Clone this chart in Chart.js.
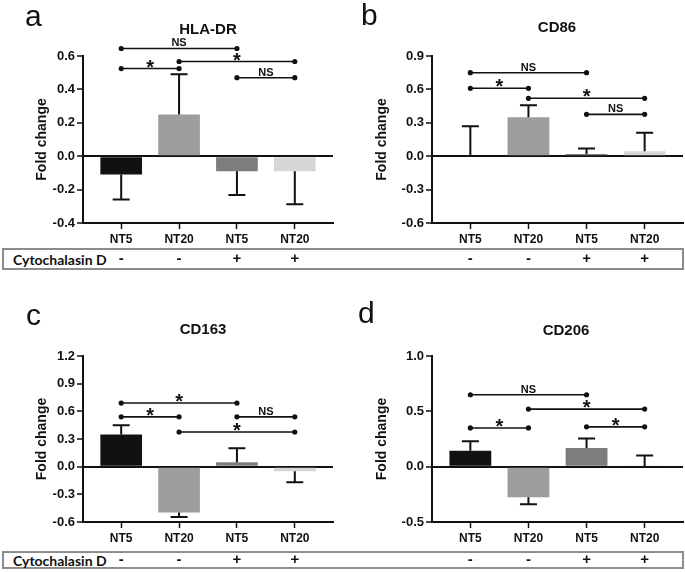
<!DOCTYPE html>
<html>
<head>
<meta charset="utf-8">
<script src="https://cdn.jsdelivr.net/npm/chart.js@4.4.0/dist/chart.umd.min.js"></script>
<style>
  body { margin: 0; background: #fff; }
  #page { position: relative; width: 685px; height: 572px; overflow: hidden; background: #fff; }
  .boite { position: absolute; left: 2px; width: 682px; border: 2px solid #8c8c8c; box-sizing: border-box; background: #fff; }
  .boite span { position: absolute; left: 9px; top: 50%; transform: translateY(-50%); font-family: Lato, sans-serif; font-weight: bold; font-size: 14px; color: #111; white-space: nowrap; }
  canvas { position: absolute; }
</style>
</head>
<body>
<div id="page">
  <div class="boite" style="top:248px; height:22px;"><span>Cytochalasin D</span></div>
  <div class="boite" style="top:551px; height:18px;"><span>Cytochalasin D</span></div>
  <canvas id="graphique-a" width="340" height="272" style="left:0; top:0;"></canvas>
  <canvas id="graphique-b" width="345" height="272" style="left:340px; top:0;"></canvas>
  <canvas id="graphique-c" width="340" height="282" style="left:0; top:290px;"></canvas>
  <canvas id="graphique-d" width="345" height="282" style="left:340px; top:290px;"></canvas>
</div>
<script>
// categories et traitement
const categories = ["NT5", "NT20", "NT5", "NT20"];
const cytochalasine = ["-", "-", "+", "+"];

// HLA-DR
const hladrValeurs = [-0.11, 0.25, -0.09, -0.09];
const hladrErreurs = [0.15, 0.24, 0.143, 0.197];
const hladrTicks = [-0.4, -0.2, 0, 0.2, 0.4, 0.6];
const hladrSignif = [[0, 2, 0.645, "NS"], [0, 1, 0.525, "*"], [1, 3, 0.567, "*"], [2, 3, 0.47, "NS"]];

// CD86
const cd86Valeurs = [0.01, 0.35, 0.02, 0.045];
const cd86Erreurs = [0.26, 0.107, 0.05, 0.165];
const cd86Ticks = [-0.6, -0.3, 0, 0.3, 0.6, 0.9];
const cd86Signif = [[0, 2, 0.75, "NS"], [0, 1, 0.61, "*"], [1, 3, 0.52, "*"], [2, 3, 0.376, "NS"]];

// CD163
const cd163Valeurs = [0.35, -0.496, 0.047, -0.05];
const cd163Erreurs = [0.1, 0.05, 0.153, 0.12];
const cd163Ticks = [-0.6, -0.3, 0, 0.3, 0.6, 0.9, 1.2];
const cd163Signif = [[0, 2, 0.69, "*"], [0, 1, 0.54, "*"], [2, 3, 0.54, "NS"], [1, 3, 0.376, "*"]];

// CD206
const cd206Valeurs = [0.144, -0.277, 0.168, 0.005];
const cd206Erreurs = [0.086, 0.063, 0.087, 0.095];
const cd206Ticks = [-0.5, 0, 0.5, 1.0];
const cd206Signif = [[0, 2, 0.65, "NS"], [1, 3, 0.52, "*"], [0, 1, 0.35, "*"], [2, 3, 0.36, "*"]];

const couleursBarres = ["#111111", "#9d9d9d", "#7d7d7d", "#d6d6d6"];
const noir = "#111111";
const police = '"Liberation Sans", Arial, sans-serif';

// barres d'erreur, crochets de significativite, titre, lettre et signes
function dessinPanneau(p) {
  return {
    id: "dessin-" + p.lettre,
    afterDatasetsDraw(chart) {
      const ctx = chart.ctx;
      const x = chart.scales.x;
      const y = chart.scales.y;
      ctx.save();
      ctx.strokeStyle = noir;
      ctx.lineWidth = 2;
      for (let i = 0; i < p.valeurs.length; i++) {
        const v = p.valeurs[i];
        const fin = v < 0 ? v - p.erreurs[i] : v + p.erreurs[i];
        const px = x.getPixelForValue(i);
        const y0 = y.getPixelForValue(v);
        const y1 = y.getPixelForValue(fin);
        ctx.beginPath();
        ctx.moveTo(px, y0);
        ctx.lineTo(px, y1);
        ctx.moveTo(px - 8.5, y1);
        ctx.lineTo(px + 8.5, y1);
        ctx.stroke();
      }
      ctx.restore();
    },
    afterDraw(chart) {
      const ctx = chart.ctx;
      const x = chart.scales.x;
      const y = chart.scales.y;
      ctx.save();
      ctx.strokeStyle = noir;
      ctx.fillStyle = noir;
      ctx.lineWidth = 1.6;
      for (const s of p.signif) {
        const x1 = x.getPixelForValue(s[0]);
        const x2 = x.getPixelForValue(s[1]);
        const py = y.getPixelForValue(s[2]);
        ctx.beginPath();
        ctx.moveTo(x1, py);
        ctx.lineTo(x2, py);
        ctx.stroke();
        ctx.beginPath();
        ctx.arc(x1, py, 2.6, 0, Math.PI * 2);
        ctx.arc(x2, py, 2.6, 0, Math.PI * 2);
        ctx.fill();
        ctx.textAlign = "center";
        ctx.textBaseline = "alphabetic";
        if (s[3] === "*") {
          ctx.font = "bold 20px " + police;
          ctx.fillText("*", (x1 + x2) / 2, py + 5);
        } else {
          ctx.font = "bold 11px " + police;
          ctx.fillText(s[3], (x1 + x2) / 2, py - 2);
        }
      }
      // titre
      ctx.font = "bold 15px " + police;
      ctx.textAlign = "center";
      ctx.textBaseline = "middle";
      ctx.fillText(p.titre, p.titreX, p.titreY);
      // lettre du panneau
      ctx.font = "30px " + police;
      ctx.textAlign = "left";
      ctx.textBaseline = "alphabetic";
      ctx.fillText(p.lettre, p.lettreX, p.lettreY);
      // signes cytochalasine D
      ctx.font = "bold 15px " + police;
      ctx.textAlign = "center";
      ctx.textBaseline = "middle";
      for (let i = 0; i < cytochalasine.length; i++) {
        ctx.fillText(cytochalasine[i], x.getPixelForValue(i), p.signesY);
      }
      ctx.restore();
    }
  };
}

function creerGraphique(p) {
  const data = {
    datasets: [
      {
        data: p.valeurs.map((v, i) => ({ x: i, y: v })),
        backgroundColor: couleursBarres,
        borderWidth: 0,
        barPercentage: 0.72,
        categoryPercentage: 1,
      }
    ],
  };
  const config = {
    type: "bar",
    data: data,
    options: {
      responsive: false,
      animation: false,
      devicePixelRatio: 1,
      layout: { padding: { top: p.haut, right: p.droite, bottom: 0, left: 0 } },
      plugins: { legend: { display: false }, tooltip: { enabled: false } },
      scales: {
        x: {
          type: "linear",
          min: -0.66,
          max: 3.66,
          offset: false,
          afterBuildTicks: s => { s.ticks = categories.map((c, i) => ({ value: i })); },
          afterFit: s => { s.height = p.hauteurX; },
          ticks: {
            callback: v => categories[v],
            font: { family: police, size: 12, weight: "bold" },
            color: noir,
            padding: 3,
            maxRotation: 0,
          },
          grid: { drawOnChartArea: false, offset: false, tickLength: 6, tickColor: noir, tickWidth: 1.5 },
          border: { color: noir, width: 2 },
        },
        y: {
          min: p.ticks[0],
          max: p.ticks[p.ticks.length - 1],
          afterBuildTicks: s => { s.ticks = p.ticks.map(v => ({ value: v })); },
          afterFit: s => { s.width = p.largeurY; },
          ticks: {
            callback: v => v.toFixed(1),
            font: { family: police, size: 13, weight: "bold" },
            color: noir,
            padding: 2,
          },
          grid: {
            color: c => (c.tick && c.tick.value === 0 ? noir : "rgba(0,0,0,0)"),
            lineWidth: 2,
            tickColor: noir,
            tickWidth: 1.5,
            tickLength: 6,
          },
          border: { color: noir, width: 2 },
          title: {
            display: true,
            text: "Fold change",
            font: { family: police, size: 14, weight: "bold" },
            color: noir,
            padding: { top: 34, bottom: 0 },
          },
        },
      },
    },
    plugins: [dessinPanneau(p)],
  };
  new Chart(document.querySelector(p.canvas), config);
}

creerGraphique({
  canvas: "#graphique-a", lettre: "a", titre: "HLA-DR",
  valeurs: hladrValeurs, erreurs: hladrErreurs, ticks: hladrTicks, signif: hladrSignif,
  haut: 56, droite: 7, largeurY: 83, hauteurX: 49,
  titreX: 208, titreY: 30, lettreX: 25, lettreY: 26, signesY: 259,
});
creerGraphique({
  canvas: "#graphique-b", lettre: "b", titre: "CD86",
  valeurs: cd86Valeurs, erreurs: cd86Erreurs, ticks: cd86Ticks, signif: cd86Signif,
  haut: 56, droite: 2, largeurY: 92, hauteurX: 49,
  titreX: 217, titreY: 28, lettreX: 21, lettreY: 25, signesY: 259,
});
creerGraphique({
  canvas: "#graphique-c", lettre: "c", titre: "CD163",
  valeurs: cd163Valeurs, erreurs: cd163Erreurs, ticks: cd163Ticks, signif: cd163Signif,
  haut: 66, droite: 7, largeurY: 83, hauteurX: 50,
  titreX: 203, titreY: 40, lettreX: 26, lettreY: 35, signesY: 270,
});
creerGraphique({
  canvas: "#graphique-d", lettre: "d", titre: "CD206",
  valeurs: cd206Valeurs, erreurs: cd206Erreurs, ticks: cd206Ticks, signif: cd206Signif,
  haut: 66, droite: 2, largeurY: 92, hauteurX: 50,
  titreX: 226, titreY: 41, lettreX: 18, lettreY: 33, signesY: 270,
});
</script>
</body>
</html>
